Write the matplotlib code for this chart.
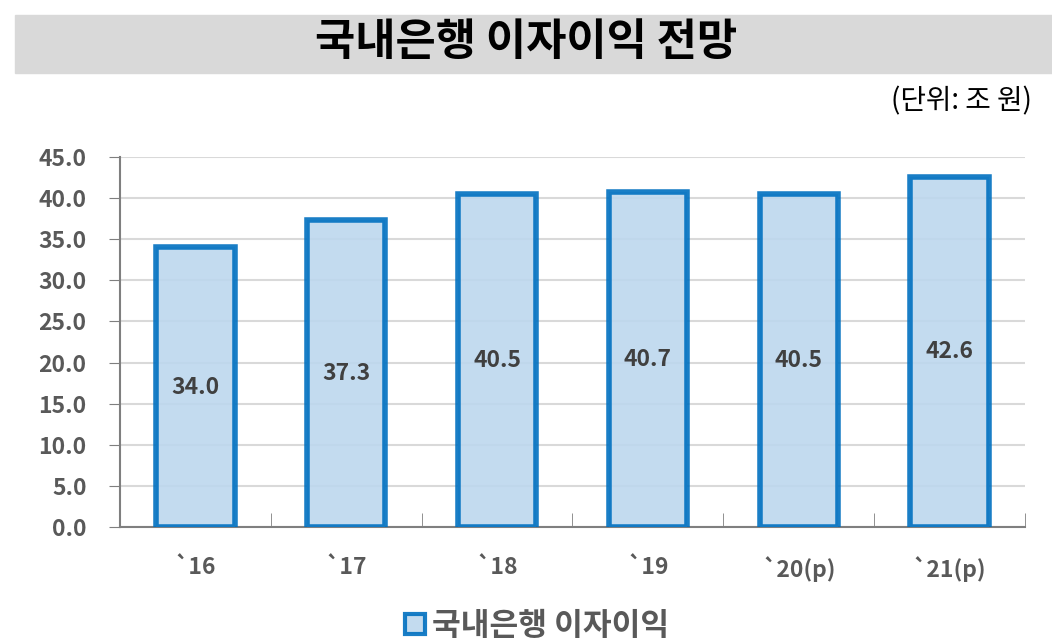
import matplotlib.pyplot as plt
from matplotlib.patches import Rectangle

years = ['`16', '`17', '`18', '`19', '`20(p)', '`21(p)']
income = [34.0, 37.3, 40.5, 40.7, 40.5, 42.6]
yticks = [0, 5, 10, 15, 20, 25, 30, 35, 40, 45]

kr = ['Noto Sans CJK KR', 'DejaVu Sans']
grey = '#595959'

fig = plt.figure(figsize=(10.52, 6.42), dpi=100)

# title band
fig.patches.append(Rectangle((15 / 1052, 1 - 73 / 642), 1037 / 1052, 58 / 642,
                             transform=fig.transFigure, color='#d9d9d9', zorder=0))
fig.text(0.5, 1 - 42 / 642, '국내은행 이자이익 전망', ha='center', va='center',
         fontsize=31.5, fontweight='heavy', family=kr)
fig.text(1032 / 1052, 1 - 101 / 642, '(단위: 조 원)', ha='right', va='center',
         fontsize=20, family=kr)

ax = fig.add_axes([120 / 1052, 1 - 527 / 642, 905 / 1052, 370 / 642])
x = range(len(years))
ax.bar(x, income, width=0.52, color='#bdd7ee', alpha=0.9, edgecolor='#0070c0',
       linewidth=4, zorder=3, label='국내은행 이자이익')
for i, v in zip(x, income):
    ax.text(i, v / 2, f'{v:.1f}', ha='center', va='center', fontsize=16.5,
            fontweight='heavy', color='#404040', family=kr, zorder=4)

ax.set_xlim(-0.5, len(years) - 0.5)
ax.set_ylim(0, 45)
ax.set_yticks(yticks)
ax.set_yticklabels([f'{t:.1f}' for t in yticks], fontsize=16.5, fontweight='heavy',
                   color=grey, family=kr)
ax.set_xticks(list(x))
ax.set_xticklabels(years, fontsize=16.5, fontweight='heavy', color=grey, family=kr)
ax.tick_params(axis='x', length=0, pad=21)
ax.set_xticks([i + 0.5 for i in range(-1, len(years))], minor=True)
ax.tick_params(axis='x', which='minor', direction='in', length=10, color='#7f7f7f')
ax.tick_params(axis='y', length=8, color='#7f7f7f', pad=16)
ax.grid(axis='y', color='#d9d9d9', linewidth=1.5, zorder=0)
ax.set_axisbelow(True)
for s in ['top', 'right']:
    ax.spines[s].set_visible(False)
for s in ['left', 'bottom']:
    ax.spines[s].set_color('#7f7f7f')
    ax.spines[s].set_linewidth(1.5)

leg = fig.legend(loc='center', bbox_to_anchor=(537 / 1052, 1 - 626 / 642), frameon=False,
                 prop={'family': kr, 'size': 22.5, 'weight': 'heavy'},
                 handlelength=0.65, handleheight=0.65, handletextpad=0.2)
for t in leg.get_texts():
    t.set_color(grey)
for h in leg.legend_handles:
    h.set_linewidth(3)

fig.savefig('out.png', dpi=100)
